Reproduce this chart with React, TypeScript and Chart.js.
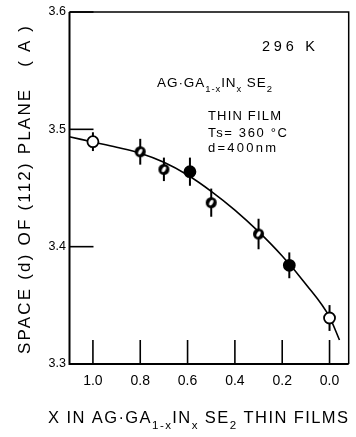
import React, { useEffect, useRef } from 'react';
import { Chart, registerables } from 'chart.js';

Chart.register(...registerables);

// ---- data ----
const compositionX = [1.0, 0.8, 0.7, 0.59, 0.5, 0.3, 0.17, 0.0];
const spacingD = [3.4895, 3.4809, 3.4659, 3.4639, 3.4375, 3.4108, 3.3841, 3.3392];
const errorD = [0.008, 0.011, 0.010, 0.012, 0.012, 0.013, 0.011, 0.011];
const markerKind = ['open', 'half', 'half', 'filled', 'half', 'half', 'filled', 'open'];

const fitX = [1.1, 1.0, 0.9, 0.8, 0.7, 0.6, 0.5, 0.4, 0.3, 0.2, 0.1, 0.0, -0.042];
const fitD = [3.4937, 3.4892, 3.4847, 3.4796, 3.4719, 3.4611, 3.4472, 3.4312, 3.4128, 3.392, 3.368, 3.340, 3.3205];

const xTicks = [1.0, 0.8, 0.6, 0.4, 0.2, 0.0];
const xTickLabels = ['1.0', '0.8', '0.6', '0.4', '0.2', '0.0'];
const yTicks = [3.3, 3.4, 3.5, 3.6];
const yTickLabels = ['3.3', '3.4', '3.5', '3.6'];

const FONT = '"Liberation Sans", Arial, Helvetica, sans-serif';

type Seg = { t: string; sub?: boolean };

function drawRich(
  ctx: CanvasRenderingContext2D,
  segs: Seg[],
  x: number,
  y: number,
  size: number,
  targetW: number
) {
  const subSize = size * 0.7;
  let natural = 0;
  let chars = 0;
  (ctx as any).letterSpacing = '0px';
  segs.forEach((s) => {
    ctx.font = `${s.sub ? subSize : size}px ${FONT}`;
    natural += ctx.measureText(s.t).width;
    chars += Array.from(s.t).length;
  });
  const ls = targetW > 0 ? Math.max(0, (targetW - natural) / Math.max(1, chars - 1)) : 0;
  let cx = x;
  segs.forEach((s) => {
    ctx.font = `${s.sub ? subSize : size}px ${FONT}`;
    (ctx as any).letterSpacing = `${ls}px`;
    ctx.fillText(s.t, cx, y + (s.sub ? size * 0.38 : 0));
    cx += ctx.measureText(s.t).width;
  });
  (ctx as any).letterSpacing = '0px';
}

function makeHalfMarker(r: number): HTMLCanvasElement {
  const s = Math.ceil(r * 2 + 4);
  const c = document.createElement('canvas');
  c.width = s;
  c.height = s;
  const g = c.getContext('2d')!;
  g.beginPath();
  g.arc(s / 2, s / 2, r, 0, Math.PI * 2);
  g.fillStyle = '#000';
  g.fill();
  g.beginPath();
  g.ellipse(s / 2, s / 2, r * 0.32, r * 0.55, 0.5, 0, Math.PI * 2);
  g.fillStyle = '#fff';
  g.fill();
  return c;
}

const decorPlugin = {
  id: 'decor',
  beforeDatasetsDraw(chart: any) {
    const { ctx, scales } = chart;
    const x = scales.x;
    const y = scales.y;
    ctx.save();
    ctx.strokeStyle = '#000';
    ctx.lineWidth = 2;
    compositionX.forEach((cx, i) => {
      const px = x.getPixelForValue(cx);
      ctx.beginPath();
      ctx.moveTo(px, y.getPixelForValue(spacingD[i] + errorD[i]));
      ctx.lineTo(px, y.getPixelForValue(spacingD[i] - errorD[i]));
      ctx.stroke();
    });
    ctx.restore();
  },
  afterDraw(chart: any) {
    const { ctx, chartArea, scales } = chart;
    const x = scales.x;
    const y = scales.y;
    const { left, right, top, bottom } = chartArea;
    ctx.save();
    ctx.strokeStyle = '#000';
    ctx.fillStyle = '#000';
    // frame
    ctx.lineWidth = 1.5;
    ctx.beginPath();
    ctx.moveTo(left, top);
    ctx.lineTo(right, top);
    ctx.lineTo(right, bottom);
    ctx.stroke();
    ctx.lineWidth = 2;
    ctx.beginPath();
    ctx.moveTo(left, top);
    ctx.lineTo(left, bottom);
    ctx.lineTo(right, bottom);
    ctx.stroke();
    // inward tick marks
    ctx.lineWidth = 1.6;
    xTicks.forEach((v) => {
      const px = x.getPixelForValue(v);
      ctx.beginPath();
      ctx.moveTo(px, bottom);
      ctx.lineTo(px, bottom - 24);
      ctx.stroke();
    });
    yTicks.forEach((v) => {
      const py = y.getPixelForValue(v);
      ctx.beginPath();
      ctx.moveTo(left, py);
      ctx.lineTo(left + 24, py);
      ctx.stroke();
    });

    ctx.textBaseline = 'alphabetic';
    ctx.textAlign = 'left';
    // annotations
    drawRich(ctx, [{ t: '296 K' }], 262, 51, 14.5, 53);
    drawRich(
      ctx,
      [{ t: 'AG·GA' }, { t: '1-x', sub: true }, { t: 'IN' }, { t: 'x', sub: true }, { t: ' SE' }, { t: '2', sub: true }],
      157,
      87,
      13.5,
      115
    );
    drawRich(ctx, [{ t: 'THIN FILM' }], 208, 120, 13, 73);
    drawRich(ctx, [{ t: 'Ts= 360 °C' }], 208, 137, 13, 79);
    drawRich(ctx, [{ t: 'd=400nm' }], 208, 152, 13, 68);

    // x axis title
    drawRich(
      ctx,
      [
        { t: 'X IN AG·GA' },
        { t: '1-x', sub: true },
        { t: 'IN' },
        { t: 'x', sub: true },
        { t: ' SE' },
        { t: '2', sub: true },
        { t: ' THIN FILMS' },
      ],
      48,
      423,
      16.5,
      300
    );

    // y axis title
    ctx.translate(25, 354);
    ctx.rotate(-Math.PI / 2);
    ctx.textBaseline = 'middle';
    drawRich(ctx, [{ t: 'SPACE (d) OF (112) PLANE   ( A )' }], 0, 0, 17, 328);
    ctx.restore();
  },
};

export default function App() {
  const ref = useRef<HTMLCanvasElement | null>(null);

  useEffect(() => {
    if (!ref.current) return;
    const half = makeHalfMarker(5.5);
    const styles = markerKind.map((k) => (k === 'half' ? half : 'circle'));
    const fills = markerKind.map((k) => (k === 'open' ? '#fff' : '#000'));

    const chart = new Chart(ref.current, {
      type: 'scatter',
      data: {
        datasets: [
          {
            label: 'measured',
            data: compositionX.map((v, i) => ({ x: v, y: spacingD[i] })),
            pointStyle: styles as any,
            pointRadius: 5.5,
            pointBackgroundColor: fills,
            pointBorderColor: '#000',
            pointBorderWidth: 1.8,
            showLine: false,
          },
          {
            label: 'fit',
            data: fitX.map((v, i) => ({ x: v, y: fitD[i] })),
            showLine: true,
            borderColor: '#000',
            borderWidth: 1.6,
            pointRadius: 0,
            cubicInterpolationMode: 'monotone',
            fill: false,
          },
        ],
      },
      options: {
        responsive: false,
        animation: false,
        events: [],
        layout: { padding: { left: 0, top: 12, right: 3.3, bottom: 0 } },
        plugins: { legend: { display: false }, tooltip: { enabled: false } },
        scales: {
          x: {
            type: 'linear',
            min: -0.081,
            max: 1.099,
            reverse: true,
            grid: { display: false, drawTicks: false },
            border: { display: false },
            afterBuildTicks: (s: any) => {
              s.ticks = xTicks.map((v) => ({ value: v }));
            },
            afterFit: (s: any) => {
              s.height = 73;
            },
            ticks: {
              padding: 9,
              color: '#000',
              font: { family: FONT, size: 14 },
              autoSkip: false,
              maxRotation: 0,
              callback: (v: any) => {
                const i = xTicks.findIndex((t) => Math.abs(t - Number(v)) < 1e-6);
                return i >= 0 ? xTickLabels[i] : '';
              },
            },
          },
          y: {
            type: 'linear',
            min: 3.3,
            max: 3.6,
            grid: { display: false, drawTicks: false },
            border: { display: false },
            afterBuildTicks: (s: any) => {
              s.ticks = yTicks.map((v) => ({ value: v }));
            },
            afterFit: (s: any) => {
              s.width = 69.5;
            },
            ticks: {
              padding: 3.5,
              color: '#000',
              font: { family: FONT, size: 12.5 },
              autoSkip: false,
              callback: (v: any) => {
                const i = yTicks.findIndex((t) => Math.abs(t - Number(v)) < 1e-6);
                return i >= 0 ? yTickLabels[i] : '';
              },
            },
          },
        },
      },
      plugins: [decorPlugin],
    });
    return () => chart.destroy();
  }, []);

  return (
    <div style={{ position: 'fixed', left: 0, top: 0, width: 356, height: 437, background: '#fff' }}>
      <canvas ref={ref} width={356} height={437} style={{ display: 'block' }} />
    </div>
  );
}
